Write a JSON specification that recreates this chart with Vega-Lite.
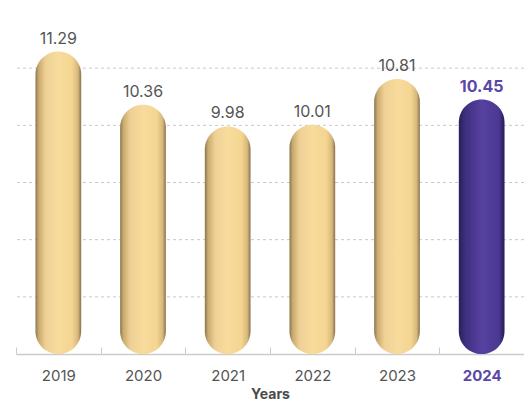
{
  "$schema": "https://vega.github.io/schema/vega-lite/v6.json",
  "width": 508,
  "height": 343,
  "autosize": "none",
  "padding": {"left": 16, "top": 11, "right": 0, "bottom": 48},
  "background": "white",
  "config": {"view": {"stroke": null}, "font": "Inter"},
  "data": {"values": [
    {"year": "2019", "value": 11.29},
    {"year": "2020", "value": 10.36},
    {"year": "2021", "value": 9.98},
    {"year": "2022", "value": 10.01},
    {"year": "2023", "value": 10.81},
    {"year": "2024", "value": 10.45}
  ]},
  "encoding": {
    "x": {"field": "year", "type": "nominal", "sort": null,
      "scale": {"paddingInner": 0, "paddingOuter": 0},
      "axis": {"title": "Years", "titleFont": "Inter", "titleFontSize": 14, "titleFontWeight": "bold", "titleColor": "#4a4a4a", "titlePadding": 4,
        "labelAngle": 0, "labelFontSize": 15, "labelPadding": 21,
        "labelColor": {"condition": {"test": "datum.value == '2024'", "value": "#5a47a6"}, "value": "#555555"},
        "labelFontWeight": {"condition": {"test": "datum.value == '2024'", "value": "bold"}, "value": "normal"},
        "domainColor": "#cccccc", "domainWidth": 1.5, "tickColor": "#cccccc", "tickSize": -7, "tickBand": "extent", "tickWidth": 1}
    },
    "y": {"field": "value", "type": "quantitative",
      "scale": {"domain": [6, 12], "nice": false, "zero": false},
      "axis": null}
  },
  "layer": [
    {
      "mark": {"type": "rule", "stroke": "#c8c8c8", "strokeDash": [3, 3], "strokeWidth": 1},
      "data": {"values": [{"g": 7}, {"g": 8}, {"g": 9}, {"g": 10}, {"g": 11}]},
      "encoding": {"y": {"field": "g", "type": "quantitative"}, "x": null}
    },
    {
      "mark": {"type": "bar", "cornerRadius": 23, "width": {"band": 0.54}},
      "encoding": {
        "y2": {"datum": 6},
        "color": {
          "condition": {"test": "datum.year == '2024'", "value": {"gradient": "linear", "x1": 0, "x2": 1, "y1": 0, "y2": 0,
            "stops": [{"offset": 0, "color": "#2a1f5c"}, {"offset": 0.15, "color": "#3f3080"}, {"offset": 0.5, "color": "#5641a0"}, {"offset": 0.88, "color": "#4a3891"}, {"offset": 1, "color": "#261b55"}]}},
          "value": {"gradient": "linear", "x1": 0, "x2": 1, "y1": 0, "y2": 0,
            "stops": [{"offset": 0, "color": "#8a7550"}, {"offset": 0.07, "color": "#c8a96e"}, {"offset": 0.22, "color": "#eed095"}, {"offset": 0.5, "color": "#f8dc9c"}, {"offset": 0.8, "color": "#f4d592"}, {"offset": 0.93, "color": "#d6b87c"}, {"offset": 1, "color": "#85714c"}]}
        }
      }
    },
    {
      "transform": [{"filter": "datum.year != '2024'"}],
      "mark": {"type": "text", "dy": -8, "baseline": "alphabetic", "fontSize": 16, "color": "#555555", "font": "Inter"},
      "encoding": {"text": {"field": "value", "type": "quantitative", "format": ".2f"}}
    },
    {
      "transform": [{"filter": "datum.year == '2024'"}],
      "mark": {"type": "text", "dy": -8, "baseline": "alphabetic", "fontSize": 16, "fontWeight": "bold", "color": "#5a47a6", "font": "Inter"},
      "encoding": {"text": {"field": "value", "type": "quantitative", "format": ".2f"}}
    }
  ]
}
